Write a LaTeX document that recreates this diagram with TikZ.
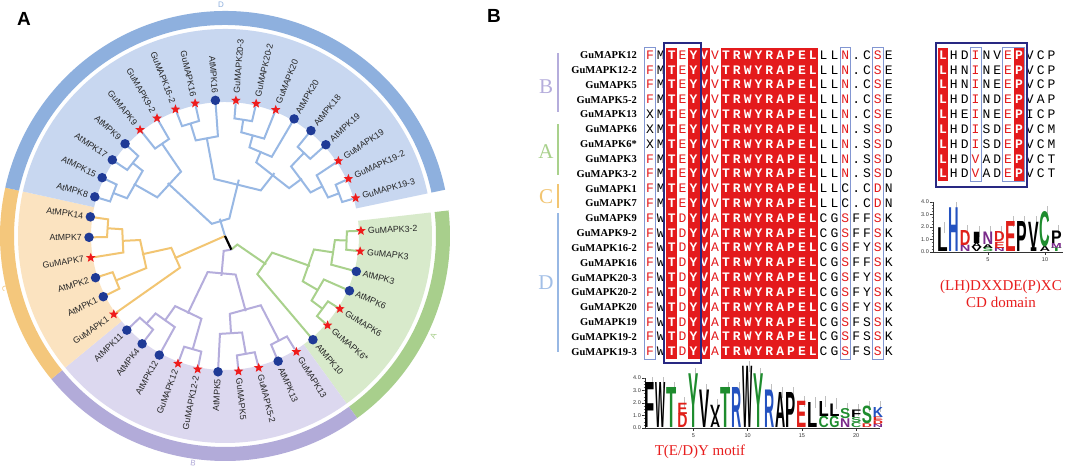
\documentclass[tikz,border=0pt]{standalone}
\usepackage{fontspec}
\usepackage{graphicx}
\setmainfont{Liberation Serif}
\newfontfamily\arial{Liberation Sans}
\newfontfamily\almono{Liberation Mono}
\usetikzlibrary{shapes.geometric}
\definecolor{dline}{HTML}{98B8E4}
\definecolor{cline}{HTML}{F2C572}
\definecolor{bline}{HTML}{B5ADDC}
\definecolor{aline}{HTML}{A9D18C}
\definecolor{dshade}{HTML}{C8D7F0}
\definecolor{cshade}{HTML}{FBE3C0}
\definecolor{bshade}{HTML}{DCD8EF}
\definecolor{ashade}{HTML}{D8EACB}
\definecolor{dring}{HTML}{8EB0DE}
\definecolor{cring}{HTML}{F4C77C}
\definecolor{bring}{HTML}{B2ABD9}
\definecolor{aring}{HTML}{A8CF8C}
\definecolor{dotblue}{HTML}{1F3A96}
\definecolor{starred}{HTML}{EE1C1C}
\definecolor{alred}{RGB}{228,26,28}
\definecolor{frm}{RGB}{130,150,210}
\definecolor{navy}{RGB}{40,40,130}
\definecolor{lgreen}{HTML}{1E8C2E}
\definecolor{lred}{HTML}{E0201A}
\definecolor{lblue}{HTML}{2452C0}
\definecolor{lpurple}{HTML}{7A2A8A}
\definecolor{captred}{RGB}{232,30,30}
\newcommand\ang[1]{2.2-8.65*(#1)}
\newcommand\br[6]{\draw[#1] ({\ang{#2}}:#3) -- ({\ang{#2}}:#6) -- ({\ang{#4}}:#6) -- ({\ang{#4}}:#5);}
\newcommand\sector[5]{\fill[#1] (#2:#4) arc[start angle=#2, end angle=#3, radius=#4] -- (#3:#5) arc[start angle=#3, end angle=#2, radius=#5] -- cycle;}
\newcommand\alrow[2]{%
  \foreach \c [count=\k] in {#2} {%
    \ifcase\k\or
      \ifnum#1>4 \ifnum#1<8 \def\st{K}\else\def\st{R}\fi\else\def\st{R}\fi
    \or \def\st{K}\or \def\st{W}\or \def\st{R}\or \def\st{W}\or \def\st{W}\or \def\st{R}%
    \or \def\st{W}\or \def\st{W}\or \def\st{W}\or \def\st{W}\or \def\st{W}\or \def\st{W}\or \def\st{W}\or \def\st{W}\or \def\st{W}%
    \or \def\st{K}\or \def\st{K}%
    \or \ifnum#1>9 \ifnum#1<12 \def\st{K}\else\def\st{R}\fi\else\def\st{R}\fi
    \or \def\st{K}\or \def\st{K}\or \def\st{R}\or \def\st{K}\fi
    \node[al\st] (s#1c\k) at ({650+10.85*(\k-1)},{59.2+14.83*(#1-1)}) {\c};
  }}
\newcommand\cdrow[2]{%
  \foreach \c [count=\k] in {#2} {%
    \def\st{K}%
    \ifnum\k=1 \def\st{W}\fi
    \ifnum\k=4 \def\st{R}\fi
    \ifnum\k=7 \def\st{R}\fi
    \ifnum\k=8 \def\st{W}\fi
    \node[al\st] (d#1c\k) at ({943+10.85*(\k-1)},{59.2+14.83*(#1-1)}) {\c};
  }}
\newcommand\lgl[7]{%
  \pgfmathsetmacro\lgh{12.5*#4}%
  \pgfmathsetmacro\lgy{#2-12.5*#3}%
  \node[inner sep=0, anchor=south, text=#5] at ({#1},\lgy) {\resizebox{#7pt}{\lgh pt}{\arial\bfseries #6}};}
\newcommand\lA[5]{\lgl{650+10.85*(#1-1)}{428}{#2}{#3}{#4}{#5}{10.2}}
\newcommand\lB[5]{\lgl{942.4+11.4*(#1-1)}{252}{#2}{#3}{#4}{#5}{10.6}}
\tikzset{
  bD/.style={draw=dline, line width=2pt},
  bC/.style={draw=cline, line width=2pt},
  bB/.style={draw=bline, line width=2pt},
  bA/.style={draw=aline, line width=2pt},
  gstar/.style={star, star points=5, star point ratio=2.3, fill=starred, draw=none, minimum size=10pt, inner sep=0pt},
  adot/.style={circle, fill=dotblue, draw=none, minimum size=9.5pt, inner sep=0pt},
  leaf/.style={font=\arial\fontsize{8.8}{9}\selectfont, text={black!85}, inner sep=0pt},
  alW/.style={anchor=base, inner sep=0, font=\almono\bfseries\fontsize{13}{13}\selectfont, text=white},
  alR/.style={anchor=base, inner sep=0, font=\almono\fontsize{13}{13}\selectfont, text=alred},
  alK/.style={anchor=base, inner sep=0, font=\almono\fontsize{13}{13}\selectfont, text=black},
  nm/.style={anchor=base east, inner sep=0, font=\bfseries\fontsize{10.5}{11}\selectfont},
  glab/.style={font=\fontsize{21}{21}\selectfont, inner sep=0},
  axlab/.style={font=\arial\fontsize{5.5}{6}\selectfont, text=black!80, inner sep=0.5pt},
  capt/.style={font=\fontsize{15}{17}\selectfont, text=captred, inner sep=0, align=center},
  panel/.style={font=\arial\bfseries\fontsize{19}{19}\selectfont, inner sep=0},
  clet/.style={font=\arial\fontsize{8}{8}\selectfont, inner sep=0}
}
\begin{document}
\begin{tikzpicture}[x=1pt,y=-1pt]
\useasboundingbox (0,0) rectangle (1065,467);
\fill[white] (0,0) rectangle (1065,467);
\node[panel] (pA) at (24,19) {A};
\node[panel] (pB) at (494,16) {B};

% ================= Panel A: circular tree =================
\begin{scope}[shift={(225pt,-236pt)},x=1pt,y=1pt]
  \sector{ashade}{6.525}{-54.025}{134}{207}
  \sector{bshade}{-54.025}{-140.525}{134}{207}
  \sector{cshade}{-140.525}{-192.425}{134}{207}
  \sector{dshade}{-192.425}{-348.125}{134}{207}
  \sector{aring}{6.525}{-54.025}{211}{225}
  \sector{bring}{-54.025}{-140.525}{211}{225}
  \sector{cring}{-140.525}{-192.425}{211}{225}
  \sector{dring}{-192.425}{-348.125}{211}{225}
  \node[clet, text=dring] (rD) at (91:231) {D};
  \node[clet, text=aring, rotate=64.4] (rA) at (-25.6:231) {A};
  \node[clet, text=bring, rotate=-8] (rB) at (-98:229) {B};
  \node[clet, text=cring, rotate=-76.6] (rC) at (-166.6:226) {C};
  % ---- clade D ----
  \br{bD}{23}{133}{24}{133}{120}
  \br{bD}{25}{133}{26}{133}{118}
  \br{bD}{23.5}{120}{25.5}{118}{105}
  \br{bD}{27}{133}{28}{133}{112}
  \br{bD}{24.5}{105}{27.5}{112}{78}
  \br{bD}{29}{133}{30}{133}{118}
  \br{bD}{29.5}{118}{31}{133}{100}
  \br{bD}{32}{133}{33}{133}{118}
  \br{bD}{32.5}{118}{34}{133}{105}
  \br{bD}{33.25}{105}{35}{133}{92}
  \br{bD}{36}{133}{37}{133}{115}
  \br{bD}{39}{133}{40}{133}{122}
  \br{bD}{38}{133}{39.5}{122}{110}
  \br{bD}{36.5}{115}{38.75}{110}{96}
  \br{bD}{34.125}{92}{37.625}{96}{80}
  \br{bD}{30.25}{100}{35.875}{80}{58}
  \br{bD}{26}{78}{33.0625}{58}{18}
  % ---- clade C ----
  \br{bC}{21}{133}{22}{133}{118}
  \br{bC}{20}{133}{21.5}{118}{103}
  \br{bC}{18}{133}{19}{133}{118}
  \br{bC}{18.5}{118}{20.75}{103}{85}
  \br{bC}{17}{133}{19.625}{85}{55}
  % ---- clade A ----
  \br{bA}{0}{133}{1}{133}{122}
  \br{bA}{0.5}{122}{2}{133}{110}
  \br{bA}{4}{133}{5}{133}{122}
  \br{bA}{3}{133}{4.5}{122}{108}
  \br{bA}{1.25}{110}{3.75}{108}{90}
  \br{bA}{2.5}{90}{6}{133}{50}
  % ---- clade B ----
  \br{bB}{7}{133}{8}{133}{118}
  \br{bB}{9}{133}{10}{133}{120}
  \br{bB}{9.5}{120}{11}{133}{98}
  \br{bB}{7.5}{118}{10.25}{98}{78}
  \br{bB}{12}{133}{13}{133}{118}
  \br{bB}{15}{133}{16}{133}{118}
  \br{bB}{14}{133}{15.5}{118}{104}
  \br{bB}{12.5}{118}{14.75}{104}{86}
  \br{bB}{8.875}{78}{13.625}{86}{40}
  % ---- root ----
  \draw[bA] ({\ang{4.25}}:50) -- ({\ang{4.25}}:15) -- ({\ang{7.75}}:15);
  \draw[bB] ({\ang{11.25}}:40) -- ({\ang{11.25}}:15) -- ({\ang{7.75}}:15);
  \draw[bD] (0,0) -- ({\ang{29.53}}:18);
  \draw[bC] (0,0) -- ({\ang{18.31}}:55);
  \draw[black, line width=2.2pt] (0,0) -- ({\ang{7.75}}:15);
  % ---- leaves ----
  \foreach \i/\n/\t in {0/GuMAPK3-2/1, 1/GuMAPK3/1, 2/AtMPK3/0, 3/AtMPK6/0, 4/GuMAPK6/1, 5/GuMAPK6*/1, 6/AtMPK10/0, 7/GuMAPK13/1, 8/AtMPK13/0, 9/GuMAPK5-2/1, 10/GuMAPK5/1, 11/AtMPK5/0, 12/GuMAPK12-2/1, 13/GuMAPK12/1, 14/AtMPK12/0, 15/AtMPK4/0, 16/AtMPK11/0, 17/GuMAPK1/1, 18/AtMPK1/0, 19/AtMPK2/0, 20/GuMAPK7/1, 21/AtMPK7/0, 22/AtMPK14/0, 23/AtMPK8/0, 24/AtMPK15/0, 25/AtMPK17/0, 26/AtMPK9/0, 27/GuMAPK9/1, 28/GuMAPK9-2/1, 29/GuMAPK16-2/1, 30/GuMAPK16/1, 31/AtMPK16/0, 32/GuMAPK20-3/1, 33/GuMAPK20-2/1, 34/GuMAPK20/1, 35/AtMPK20/0, 36/AtMPK18/0, 37/AtMPK19/0, 38/GuMAPK19/1, 39/GuMAPK19-2/1, 40/GuMAPK19-3/1} {
    \pgfmathsetmacro\a{2.2-8.65*\i}
    \ifnum\t=1
      \node[gstar] (m\i) at (\a:136) {};
    \else
      \node[adot] (m\i) at (\a:136) {};
    \fi
    \pgfmathtruncatemacro\rs{(\a>-90)||(\a<-270)}
    \ifnum\rs=1
      \node[leaf, anchor=west, rotate=\a] (l\i) at (\a:143) {\n};
    \else
      \node[leaf, anchor=east, rotate=\a+180] (l\i) at (\a:143) {\n};
    \fi
  }
\end{scope}

% ================= Panel B: alignment =================
\draw[draw=bline, line width=2.5pt] (558,53) -- (558,112);
\draw[draw=aline, line width=2.5pt] (558,124) -- (558,175);
\draw[draw=cline, line width=2.5pt] (558,184) -- (558,208);
\draw[draw=dline, line width=2.5pt] (558,213) -- (558,352);
\node[glab, text=bline] (gB) at (546,87) {B};
\node[glab, text=aline] (gA) at (546,152) {A};
\node[glab, text=cline] (gC) at (546,197) {C};
\node[glab, text=dline!90] (gD) at (546,283) {D};

\foreach \n [count=\k] in {GuMAPK12,GuMAPK12-2,GuMAPK5,GuMAPK5-2,GuMAPK13,GuMAPK6,GuMAPK6*,GuMAPK3,GuMAPK3-2,GuMAPK1,GuMAPK7,GuMAPK9,GuMAPK9-2,GuMAPK16-2,GuMAPK16,GuMAPK20-3,GuMAPK20-2,GuMAPK20,GuMAPK19,GuMAPK19-2,GuMAPK19-3}
  \node[nm] (nm\k) at (637,{58.6+14.83*(\k-1)}) {\n};

\fill[alred] (666.3,47.5) rectangle (677.1,359.1);
\fill[alred] (688.0,47.5) rectangle (709.7,359.1);
\fill[alred] (720.5,47.5) rectangle (818.2,359.1);
\draw[frm, line width=0.7pt] (644.6,47.5) rectangle (655.4,359.1);
\draw[frm, line width=0.7pt] (839.9,47.5) rectangle (850.7,359.1);
\draw[frm, line width=0.7pt] (872.4,47.5) rectangle (883.3,359.1);

\alrow{1}{F,M,T,E,Y,V,V,T,R,W,Y,R,A,P,E,L,L,L,N,.,C,S,E}
\alrow{2}{F,M,T,E,Y,V,V,T,R,W,Y,R,A,P,E,L,L,L,N,.,C,S,E}
\alrow{3}{F,M,T,E,Y,V,V,T,R,W,Y,R,A,P,E,L,L,L,N,.,C,S,E}
\alrow{4}{F,M,T,E,Y,V,V,T,R,W,Y,R,A,P,E,L,L,L,N,.,C,S,E}
\alrow{5}{X,M,T,E,Y,V,V,T,R,W,Y,R,A,P,E,L,L,L,N,.,C,S,E}
\alrow{6}{X,M,T,E,Y,V,V,T,R,W,Y,R,A,P,E,L,L,L,N,.,S,S,D}
\alrow{7}{X,M,T,E,Y,V,V,T,R,W,Y,R,A,P,E,L,L,L,N,.,S,S,D}
\alrow{8}{F,M,T,E,Y,V,V,T,R,W,Y,R,A,P,E,L,L,L,N,.,S,S,D}
\alrow{9}{F,M,T,E,Y,V,V,T,R,W,Y,R,A,P,E,L,L,L,N,.,S,S,D}
\alrow{10}{F,M,T,E,Y,V,V,T,R,W,Y,R,A,P,E,L,L,L,C,.,C,D,N}
\alrow{11}{F,M,T,E,Y,V,V,T,R,W,Y,R,A,P,E,L,L,L,C,.,C,D,N}
\alrow{12}{F,W,T,D,Y,V,A,T,R,W,Y,R,A,P,E,L,C,G,S,F,F,S,K}
\alrow{13}{F,W,T,D,Y,V,A,T,R,W,Y,R,A,P,E,L,C,G,S,F,F,S,K}
\alrow{14}{F,W,T,D,Y,V,A,T,R,W,Y,R,A,P,E,L,C,G,S,F,Y,S,K}
\alrow{15}{F,W,T,D,Y,V,A,T,R,W,Y,R,A,P,E,L,C,G,S,F,F,S,K}
\alrow{16}{F,W,T,D,Y,V,A,T,R,W,Y,R,A,P,E,L,C,G,S,F,Y,S,K}
\alrow{17}{F,W,T,D,Y,V,A,T,R,W,Y,R,A,P,E,L,C,G,S,F,Y,S,K}
\alrow{18}{F,W,T,D,Y,V,A,T,R,W,Y,R,A,P,E,L,C,G,S,F,Y,S,K}
\alrow{19}{F,W,T,D,Y,V,A,T,R,W,Y,R,A,P,E,L,C,G,S,F,S,S,K}
\alrow{20}{F,W,T,D,Y,V,A,T,R,W,Y,R,A,P,E,L,C,G,S,F,S,S,K}
\alrow{21}{F,W,T,D,Y,V,A,T,R,W,Y,R,A,P,E,L,C,G,S,F,S,S,K}
\draw[navy, line width=1.6pt] (664,43) rectangle (701,363);

\fill[alred] (937.6,47.5) rectangle (948.4,181);
\fill[alred] (1013.5,47.5) rectangle (1024.4,181);
\draw[frm, line width=0.7pt] (970.1,47.5) rectangle (981,181);
\draw[frm, line width=0.7pt] (1002.7,47.5) rectangle (1024.4,181);
\cdrow{1}{L,H,D,I,N,V,E,P,V,C,P}
\cdrow{2}{L,H,N,I,N,E,E,P,V,C,P}
\cdrow{3}{L,H,N,I,N,E,E,P,V,C,P}
\cdrow{4}{L,H,D,I,N,D,E,P,V,A,P}
\cdrow{5}{L,H,E,I,N,E,E,P,I,C,P}
\cdrow{6}{L,H,D,I,S,D,E,P,V,C,M}
\cdrow{7}{L,H,D,I,S,D,E,P,V,C,M}
\cdrow{8}{L,H,D,V,A,D,E,P,V,C,T}
\cdrow{9}{L,H,D,V,A,D,E,P,V,C,T}
\draw[navy, line width=1.6pt] (936,43) rectangle (1027,187);

% ---- logo 1 ----
\draw[black!80, line width=0.5pt] (645,378) -- (645,428) -- (880,428);
\foreach \j in {0,...,4} {
  \draw[black!80, line width=0.4pt] (642,{428-12.5*\j}) -- (645,{428-12.5*\j});
  \node[axlab, anchor=east] (ya\j) at (641.5,{428-12.5*\j}) {\j.0};
}
\foreach \j in {1,...,16} \draw[black!60, line width=0.3pt] (643.5,{428-3.125*\j}) -- (645,{428-3.125*\j});
\foreach \j in {5,10,15,20} {
  \draw[black!80, line width=0.4pt] ({650+10.85*(\j-1)},428) -- ({650+10.85*(\j-1)},430.5);
  \node[axlab, anchor=north] (xa\j) at ({650+10.85*(\j-1)},433) {\j};
}
\foreach \k/\tp in {1/3.6,2/3.6,3/3.2,4/2.0,5/4.3,6/3.0,7/1.8,8/3.2,9/3.2,10/4.9,11/4.3,12/3.0,13/2.8,14/2.8,15/2.1,16/2.0,17/2.1,18/1.9,19/1.5,20/1.4,21/1.7,22/1.7}
  \draw[black!25, line width=0.4pt] ({652+10.85*(\k-1)},{428-12.5*(\tp-0.4)}) -- ({652+10.85*(\k-1)},{428-12.5*(\tp+0.5)});
\lA{1}{0}{3.6}{black}{F}
\lA{2}{0}{3.6}{black}{W}
\lA{3}{0}{3.2}{lgreen}{T}
\lA{4}{0}{1.1}{lred}{D}
\lA{4}{1.1}{0.9}{lred}{E}
\lA{5}{0}{4.3}{lgreen}{Y}
\lA{6}{0}{3.0}{black}{V}
\lA{7}{0}{0.9}{black}{A}
\lA{7}{0.9}{0.9}{black}{V}
\lA{8}{0}{3.2}{lgreen}{T}
\lA{9}{0}{3.2}{lblue}{R}
\lA{10}{0}{4.9}{black}{W}
\lA{11}{0}{4.3}{lgreen}{Y}
\lA{12}{0}{3.0}{lblue}{R}
\lA{13}{0}{2.8}{black}{A}
\lA{14}{0}{2.8}{black}{P}
\lA{15}{0}{2.1}{lred}{E}
\lA{16}{0}{2.0}{black}{L}
\lA{17}{0}{0.9}{lgreen}{C}
\lA{17}{0.9}{1.2}{black}{L}
\lA{18}{0}{0.9}{lgreen}{G}
\lA{18}{0.9}{1.0}{black}{L}
\lA{19}{0}{0.7}{lpurple}{N}
\lA{19}{0.7}{0.8}{lgreen}{S}
\lA{20}{0}{0.4}{lgreen}{C}
\lA{20}{0.4}{0.4}{lgreen}{S}
\lA{20}{0.8}{0.6}{black}{F}
\lA{21}{0}{0.3}{lred}{D}
\lA{21}{0.3}{1.4}{lgreen}{S}
\lA{22}{0}{0.25}{lpurple}{N}
\lA{22}{0.25}{0.3}{lred}{D}
\lA{22}{0.55}{0.3}{lred}{E}
\lA{22}{0.85}{0.8}{lblue}{K}

% ---- logo 2 ----
\draw[black!80, line width=0.5pt] (933,202) -- (933,252) -- (1063,252);
\foreach \j in {0,...,4} {
  \draw[black!80, line width=0.4pt] (930,{252-12.5*\j}) -- (933,{252-12.5*\j});
  \node[axlab, anchor=east] (yb\j) at (929.5,{252-12.5*\j}) {\j.0};
}
\foreach \j in {1,...,16} \draw[black!60, line width=0.3pt] (931.5,{252-3.125*\j}) -- (933,{252-3.125*\j});
\foreach \j in {5,10} {
  \draw[black!80, line width=0.4pt] ({942.4+11.4*(\j-1)},252) -- ({942.4+11.4*(\j-1)},254.5);
  \node[axlab, anchor=north] (xb\j) at ({942.4+11.4*(\j-1)},257) {\j};
}
\foreach \k/\tp in {1/1.9,2/3.5,3/1.7,4/1.6,5/1.6,6/1.6,7/2.4,8/2.4,9/2.4,10/3.2,11/1.7}
  \draw[black!25, line width=0.4pt] ({944.5+11.4*(\k-1)},{252-12.5*(\tp-0.4)}) -- ({944.5+11.4*(\k-1)},{252-12.5*(\tp+0.5)});
\lB{1}{0}{1.9}{black}{L}
\lB{2}{0}{3.5}{lblue}{H}
\lB{3}{0}{0.5}{lpurple}{N}
\lB{3}{0.5}{1.2}{lred}{D}
\lB{4}{0}{0.35}{black}{V}
\lB{4}{0.35}{0.35}{black}{A}
\lB{4}{0.7}{0.9}{black}{I}
\lB{5}{0}{0.3}{lgreen}{S}
\lB{5}{0.3}{0.3}{black}{A}
\lB{5}{0.6}{1.0}{lpurple}{N}
\lB{6}{0}{0.3}{lpurple}{N}
\lB{6}{0.3}{0.5}{lred}{E}
\lB{6}{0.8}{0.8}{lred}{D}
\lB{7}{0}{2.4}{lred}{E}
\lB{8}{0}{2.4}{black}{P}
\lB{9}{0}{0.3}{black}{I}
\lB{9}{0.3}{2.1}{black}{V}
\lB{10}{0}{0.4}{black}{A}
\lB{10}{0.4}{2.8}{lgreen}{C}
\lB{11}{0}{0.3}{lgreen}{T}
\lB{11}{0.3}{0.4}{lpurple}{M}
\lB{11}{0.7}{1.0}{black}{P}

\node[capt] (cap1) at (700,452) {T(E/D)Y motif};
\node[capt] (cap2) at (1001,294) {(LH)DXXDE(P)XC\\CD domain};
\end{tikzpicture}
\end{document}
